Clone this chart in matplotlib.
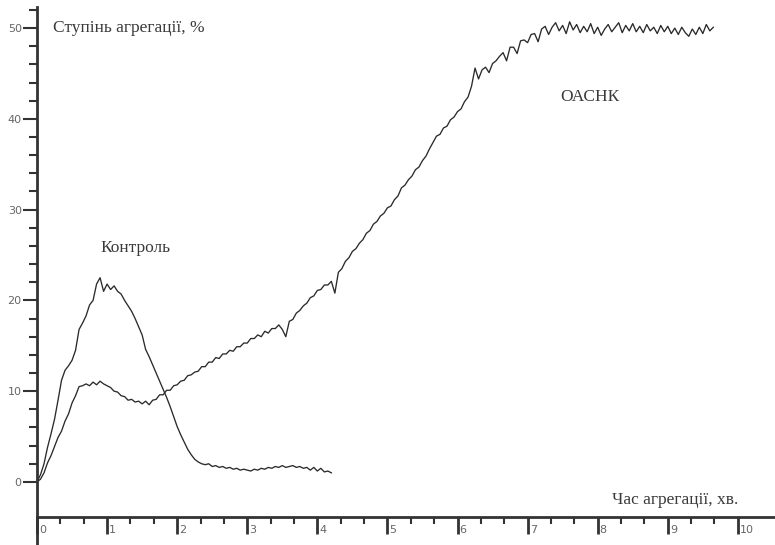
import numpy as np
import matplotlib
matplotlib.use("Agg")
import matplotlib.pyplot as plt

# ---- data ----
step = 0.05  # sampling interval, min
oasnk = [0.0, 0.3, 1.0, 2.1, 2.9, 3.9, 4.9, 5.6, 6.7, 7.5, 8.7, 9.5, 10.5, 10.6, 10.8, 10.6,
         11.0, 10.7, 11.1, 10.8, 10.6, 10.4, 10.0, 9.9, 9.5, 9.4, 9.0, 9.1, 8.8, 8.9,
         8.6, 8.9, 8.5, 9.0, 9.1, 9.6, 9.6, 10.1, 10.1, 10.6, 10.7, 11.1, 11.2, 11.7,
         11.8, 12.1, 12.2, 12.7, 12.7, 13.2, 13.2, 13.7, 13.6, 14.1, 14.1, 14.5, 14.4,
         14.9, 14.9, 15.3, 15.3, 15.8, 15.8, 16.2, 16.0, 16.6, 16.4, 16.9, 16.9, 17.3,
         16.8, 16.0, 17.7, 17.9, 18.6, 18.9, 19.4, 19.7, 20.3, 20.5, 21.1, 21.2, 21.7,
         21.7, 22.1, 20.8, 23.1, 23.5, 24.3, 24.7, 25.4, 25.7, 26.3, 26.7, 27.4, 27.7,
         28.4, 28.7, 29.3, 29.6, 30.2, 30.4, 31.1, 31.5, 32.4, 32.7, 33.3, 33.7, 34.4,
         34.7, 35.4, 35.9, 36.7, 37.4, 38.1, 38.3, 39.0, 39.2, 39.9, 40.2, 40.8, 41.1,
         41.9, 42.4, 43.6, 45.6, 44.4, 45.4, 45.7, 45.1, 46.1, 46.4, 46.9, 47.3, 46.4,
         47.9, 47.9, 47.2, 48.6, 48.7, 48.4, 49.3, 49.4, 48.5, 49.9, 50.2, 49.3, 50.1,
         50.6, 49.7, 50.3, 49.4, 50.7, 49.8, 50.4, 49.5, 50.2, 49.6, 50.5, 49.4, 50.1,
         49.2, 49.9, 50.4, 49.6, 50.1, 50.6, 49.5, 50.3, 49.7, 50.5, 49.6, 50.2, 49.5,
         50.4, 49.7, 50.1, 49.4, 50.3, 49.6, 50.2, 49.4, 50.0, 49.3, 50.1, 49.5, 49.1,
         49.9, 49.3, 50.1, 49.4, 50.4, 49.7, 50.1]
control = [0.0, 0.8, 2.0, 3.8, 5.3, 6.9, 9.0, 11.2, 12.3, 12.8, 13.4, 14.5, 16.8, 17.5,
           18.3, 19.5, 20.0, 21.8, 22.5, 21.0, 21.8, 21.2, 21.6, 21.0, 20.7, 20.0, 19.4,
           18.8, 18.0, 17.1, 16.2, 14.6, 13.8, 12.9, 12.0, 11.1, 10.2, 9.3, 8.3, 7.2,
           6.1, 5.2, 4.4, 3.6, 3.0, 2.5, 2.2, 2.0, 1.9, 2.0, 1.7, 1.8, 1.6, 1.7, 1.5,
           1.6, 1.4, 1.5, 1.3, 1.4, 1.3, 1.2, 1.4, 1.3, 1.5, 1.4, 1.6, 1.5, 1.7, 1.6,
           1.8, 1.6, 1.7, 1.8, 1.6, 1.7, 1.5, 1.6, 1.3, 1.6, 1.2, 1.5, 1.1, 1.2, 1.0]
t_oasnk = np.arange(len(oasnk)) * step
t_control = np.arange(len(control)) * step

x_major = list(range(0, 11))
x_labels = [str(v) for v in x_major]
x_minor = [i / 3 for i in range(0, 30) if i % 3 != 0]
y_major = [0, 10, 20, 30, 40, 50]
y_minor = list(range(0, 53, 2))

ylabel_text = "Ступінь агрегації, %"
xlabel_text = "Час агрегації, хв."
label_control = "Контроль"
label_oasnk = "ОАСНК"

# ---- figure ----
W, H = 775, 545
fig = plt.figure(figsize=(W / 100, H / 100), dpi=100)
ax = fig.add_axes([37 / W, 0, 738 / W, 1])
ax.set_xlim(0, 10.53)
ax.set_ylim(-6.95, 53.1)
xaxis_y = -3.86

axis_col = "#333333"
ax.spines["top"].set_visible(False)
ax.spines["right"].set_visible(False)
ax.spines["left"].set_linewidth(2)
ax.spines["left"].set_color(axis_col)
ax.spines["left"].set_bounds(-6.95, 52.3)
ax.spines["bottom"].set_position(("data", xaxis_y))
ax.spines["bottom"].set_linewidth(2)
ax.spines["bottom"].set_color(axis_col)

ax.set_xticks(x_major)
ax.set_xticks(x_minor, minor=True)
ax.tick_params(axis="x", which="major", length=12, width=2, color=axis_col,
               direction="out", labelbottom=False)
ax.tick_params(axis="x", which="minor", length=5, width=1.5, color=axis_col,
               direction="out")
ax.set_yticks(y_major)
ax.set_yticks(y_minor, minor=True)
ax.tick_params(axis="y", which="major", length=10, width=1.5, color=axis_col,
               direction="out", labelsize=8, labelcolor="#666666", pad=1)
ax.tick_params(axis="y", which="minor", length=6, width=1.5, color=axis_col,
               direction="out")

for v, lab in zip(x_major, x_labels):
    ax.annotate(lab, xy=(v, xaxis_y), xytext=(2, -8), textcoords="offset pixels",
                ha="left", va="top", fontsize=8, color="#666666")

ax.plot(t_oasnk, oasnk, color="#2a2a2a", lw=0.95)
ax.plot(t_control, control, color="#2a2a2a", lw=0.95)

serif = "Liberation Serif"
fs = 12.5
ax.text(0.23, 50.05, ylabel_text, family=serif, fontsize=fs, color="#3a3a3a",
        ha="left", va="center")
ax.text(10.0, -2.0, xlabel_text, family=serif, fontsize=fs, color="#3a3a3a",
        ha="right", va="center")
ax.text(0.9, 25.8, label_control, family=serif, fontsize=fs, color="#3a3a3a",
        ha="left", va="center")
ax.text(7.47, 42.4, label_oasnk, family=serif, fontsize=fs, color="#3a3a3a",
        ha="left", va="center")

fig.savefig("out.png", dpi=100)
